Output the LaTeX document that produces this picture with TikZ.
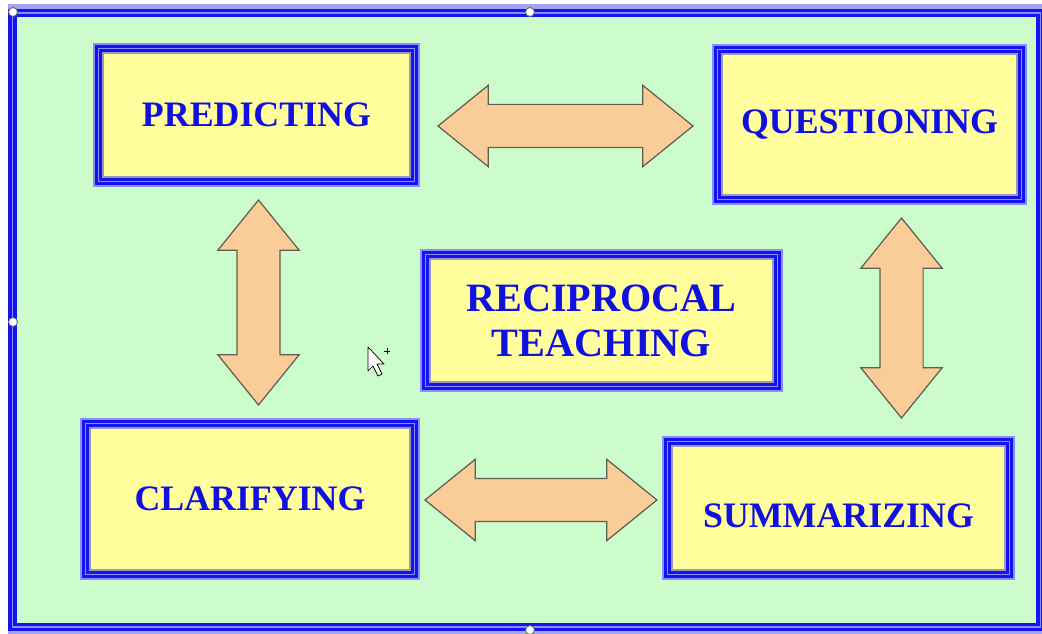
\documentclass[tikz,border=0pt]{standalone}
\usepackage{fontspec}
\setmainfont{Liberation Serif}
\usetikzlibrary{shapes.arrows}
\definecolor{RTGreen}{HTML}{CCFBCC}
\definecolor{RTBlue}{HTML}{1414EE}
\definecolor{RTPale}{HTML}{8C8CFA}
\definecolor{RTLavender}{HTML}{A4A4F2}
\definecolor{RTYellow}{HTML}{FFFD9C}
\definecolor{RTGray}{HTML}{9A9AB8}
\definecolor{RTText}{HTML}{1010E0}
\definecolor{RTArrow}{HTML}{FACC98}
\definecolor{RTEdge}{HTML}{5E5E52}

\begin{document}
\begin{tikzpicture}[
        x=0.02cm, y=-0.02cm,
        stage/.style={draw=RTBlue, line width=1.3pt, double=RTPale, double distance=0.9pt,
          fill=RTYellow, preaction={draw=RTPale, line width=6pt}, inner sep=0pt,
          align=center, text=RTText, font=\fontsize{20.4}{25}\selectfont\bfseries},
        link/.style={double arrow, draw=RTEdge, fill=RTArrow, line width=0.7pt,
          inner xsep=0pt, inner ysep=0.42cm, double arrow head extend=0.38cm,
          double arrow tip angle=78, double arrow head indent=0pt},
        handle/.style={draw=black!60, fill=white, line width=0.5pt}
      ]
        \useasboundingbox (0,0) rectangle (1042,634);
        % frame
        \fill[RTGreen] (14,14) rectangle (1040,625);
        \fill[RTLavender] (8,4) rectangle (1042,10);
        \fill[RTLavender] (8,630) rectangle (1042,634);
        \draw[draw=RTBlue, line width=1.9pt, double=RTPale, double distance=1pt]
          (12.5,13) rectangle (1040.5,627);

        % the five stages
        \node[stage, minimum width=6.32cm, minimum height=2.66cm] (pred) at (256.5,115) {PREDICTING};
        \node[stage, minimum width=6.08cm, minimum height=3.00cm] (quest) at (869.5,124.5) {QUESTIONING};
        \node[stage, minimum width=7.04cm, minimum height=2.64cm,
          font=\fontsize{22.9}{25.6}\selectfont\bfseries] (recip) at (601.5,320.5) {RECIPROCAL\\TEACHING};
        \node[stage, minimum width=6.58cm, minimum height=3.02cm] (clar) at (250,499) {CLARIFYING};
        \node[stage, minimum width=6.84cm, minimum height=2.66cm,
          text height=22pt, text depth=0pt] (summ) at (838.5,508) {SUMMARIZING};
        \foreach \n in {pred,quest,recip,clar,summ}
          \draw[RTGray, line width=0.8pt]
            ([shift={(3.3pt,3.3pt)}]\n.south west) rectangle ([shift={(-3.3pt,-3.3pt)}]\n.north east);

        % block arrows
        \node[link, minimum height=5.10cm] (pq) at (565.5,126) {};
        \node[link, minimum height=4.64cm] (cs) at (541,500) {};
        \node[link, minimum height=4.10cm, rotate=90] (pc) at (258.5,302.5) {};
        \node[link, minimum height=4.00cm, rotate=90] (qs) at (901.5,318) {};

        % pointer
        \draw[fill=white, line width=0.4pt, line join=round]
          (368,347) -- ++(0,24) -- ++(5,-5) -- ++(5,10) -- ++(4,-2) -- ++(-5,-10) -- ++(7,0) -- cycle;
        \draw[line width=0.5pt] (384,351) -- (390,351) (387,348) -- (387,354);

        % selection handles
        \foreach \p in {(13,12),(530,12),(13,322),(530,630)}
          \draw[handle] \p circle (4.5);
      \end{tikzpicture}
\end{document}
